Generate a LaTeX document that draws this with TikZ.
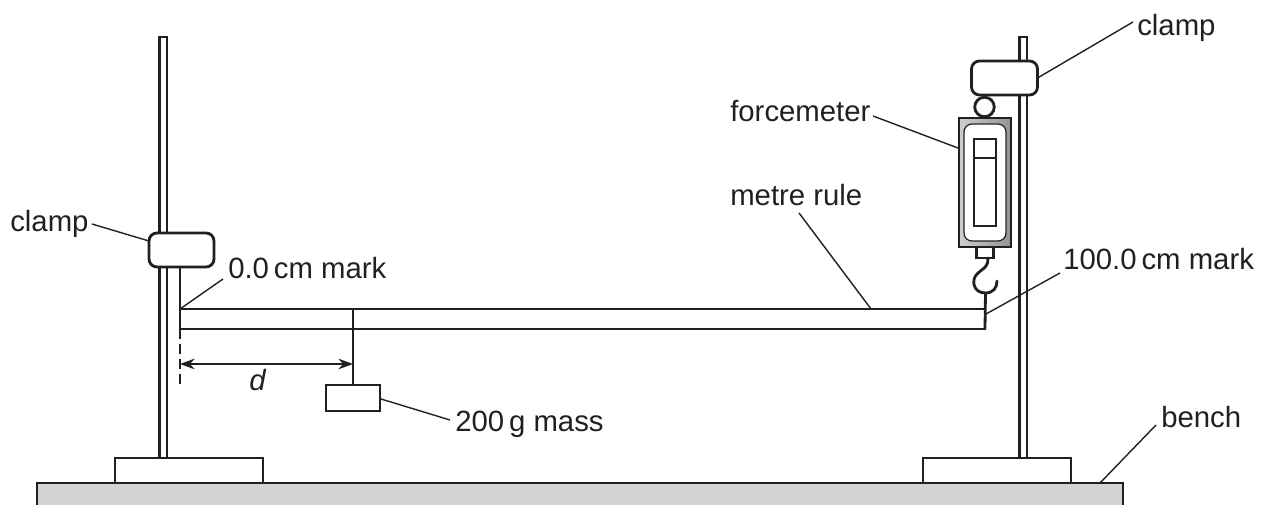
\documentclass[tikz,border=0pt]{standalone}
\usepackage{fontspec}
\setmainfont{Liberation Sans}
\usetikzlibrary{arrows.meta}
\definecolor{benchgrey}{RGB}{209,211,212}
\definecolor{ink}{RGB}{35,31,32}
\tikzset{
  thick line/.style={draw=ink,line width=2.1pt},
  box/.style={thick line,fill=white,inner sep=0pt,outer sep=0pt,rectangle},
  soft box/.style={box,rounded corners=6pt},
  leader/.style={draw=ink,line width=1.05pt},
  lab/.style={inner sep=0pt,anchor=base west,text=ink,font=\fontsize{22}{26}\selectfont},
}
\begin{document}
\begin{tikzpicture}[x=0.75pt,y=-0.75pt]
\useasboundingbox (0,0) rectangle (1265,505);
\begin{scope}
\clip (0,0) rectangle (1265,505);
% bench
\node[thick line,fill=benchgrey,rectangle,inner sep=0pt,outer sep=0pt,minimum width=1086*0.75pt,minimum height=44*0.75pt] (bench) at (580,505) {};
\end{scope}
% stands
\draw[thick line,fill=white] (159.3,458) -- (159.3,37) -- (167,37) -- (167,458);
\draw[thick line,fill=white] (1019.3,458) -- (1019.3,37) -- (1027,37) -- (1027,458);
\node[box,minimum width=148*0.75pt,minimum height=25*0.75pt] (baseL) at (189,470.5) {};
\node[box,minimum width=148*0.75pt,minimum height=25*0.75pt] (baseR) at (997,470.5) {};
% ruler
\node[box,minimum width=805*0.75pt,minimum height=20*0.75pt] (rule) at (582.5,319) {};
% clamps
\node[soft box,minimum width=65*0.75pt,minimum height=34*0.75pt] (clampL) at (181.5,250) {};
\node[soft box,minimum width=66*0.75pt,minimum height=34*0.75pt] (clampR) at (1004.5,78) {};
\draw[thick line] (clampL.south -| rule.north west) -- (rule.south west);
\draw[draw=ink,line width=1.5pt,dash pattern=on 7.5pt off 3.7pt] (rule.south west) -- +(0,57);
% mass
\node[box,minimum width=54*0.75pt,minimum height=26*0.75pt] (mass) at (353,398) {};
\coordinate (hang) at (mass.north |- rule.north);
\draw[thick line] (hang) -- (mass.north);
% d dimension
\coordinate (dL) at (180,364);
\coordinate (dR) at (mass.north |- dL);
\draw[draw=ink,line width=1pt,{Stealth[length=11pt,width=8pt]}-{Stealth[length=11pt,width=8pt]}] (dL) -- (dR);
\node[lab] (d) at (249,391) {\itshape d};
% forcemeter
\node[thick line,circle,fill=white,minimum size=19.5*0.75pt,inner sep=0pt,outer sep=0pt] (ring) at (984.5,107) {};
\node[box,minimum width=52*0.75pt,minimum height=129*0.75pt,fill=none,left color=gray!38,right color=gray!85] (fm) at (985,182.5) {};
\node[draw=ink,line width=0.9pt,fill=white,rounded corners=6pt,minimum width=42*0.75pt,minimum height=117*0.75pt,inner sep=0pt] (fmin) at (985,182.5) {};
\node[box,minimum width=22*0.75pt,minimum height=87*0.75pt] (win) at (985,182.5) {};
\draw[thick line] ([yshift=-19*0.75pt]win.north west) -- ([yshift=-19*0.75pt]win.north east);
\node[box,minimum width=17*0.75pt,minimum height=11*0.75pt] (neck) at (985,252.5) {};
\coordinate (hookTop) at (988,258);
\coordinate (hookEnd) at (985.5,292);
\draw[thick line,line cap=round] (hookTop) -- (987.5,263) .. controls (986,268) and (981,270) .. (977,274)
  .. controls (971,280) and (973,293) .. (985.5,293) .. controls (993,293) and (997,288) .. (997,281);
\draw[thick line] (hookEnd) -- (rule.south east);
% labels
\node[lab] (lClampR) at (1137,36) {clamp};
\node[lab] (lFm) at (730,122) {forcemeter};
\node[lab] (lRule) at (730,206) {metre rule};
\node[lab] (lHundred) at (1063,270) {100.0\,cm mark};
\node[lab] (lZero) at (228,279) {0.0\,cm mark};
\node[lab] (lClampL) at (10,232) {clamp};
\node[lab] (lMass) at (455,432) {200\,g mass};
\node[lab] (lBench) at (1161,428) {bench};
% leaders
\coordinate (a1) at (1133,22); \coordinate (b1) at (1037.5,78);
\draw[leader] (a1) -- (b1);
\coordinate (a2) at (873,116); \coordinate (b2) at (958,148);
\draw[leader] (a2) -- (b2);
\coordinate (a3) at (799,213); \coordinate (b3) at (871,309);
\draw[leader] (a3) -- (b3);
\coordinate (a4) at (1060,273); \coordinate (b4) at (986,314);
\draw[leader] (a4) -- (b4);
\coordinate (a5) at (223,279); \coordinate (b5) at (180,309);
\draw[leader] (a5) -- (b5);
\coordinate (a6) at (92,224); \coordinate (b6) at (149,241);
\draw[leader] (a6) -- (b6);
\coordinate (a7) at (450,420); \coordinate (b7) at (381,399);
\draw[leader] (a7) -- (b7);
\coordinate (a8) at (1156,425); \coordinate (b8) at (1100,483);
\draw[leader] (a8) -- (b8);
\end{tikzpicture}
\end{document}
